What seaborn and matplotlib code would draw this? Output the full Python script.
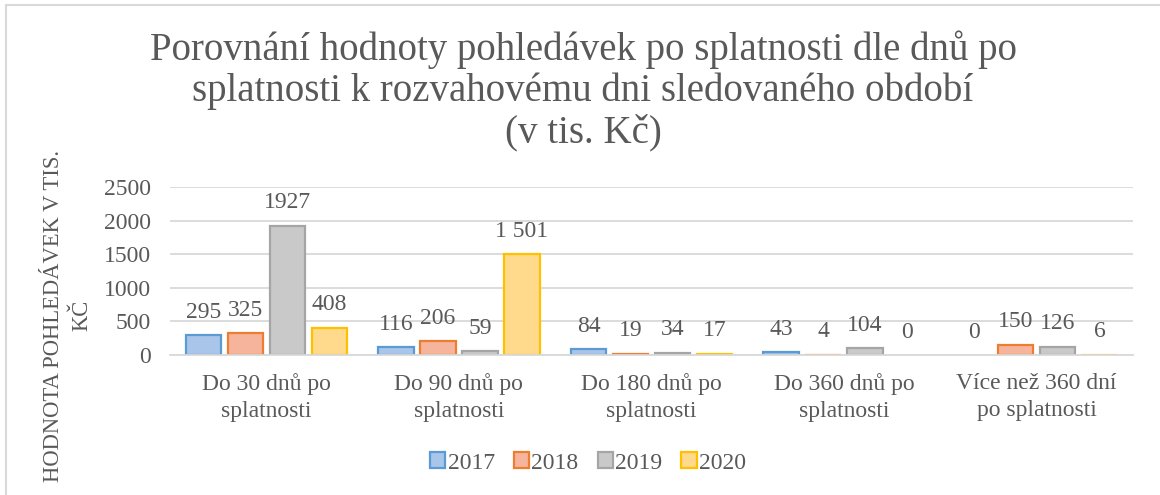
import pandas as pd
import matplotlib.pyplot as plt
import seaborn as sns
from matplotlib.lines import Line2D

categories = ["Do 30 dnů po\nsplatnosti", "Do 90 dnů po\nsplatnosti",
              "Do 180 dnů po\nsplatnosti", "Do 360 dnů po\nsplatnosti",
              "Více než 360 dní\npo splatnosti"]
years = ["2017", "2018", "2019", "2020"]
v2017 = [295, 116, 84, 43, 0]
v2018 = [325, 206, 19, 4, 150]
v2019 = [1927, 59, 34, 104, 126]
v2020 = [408, 1501, 17, 0, 6]
yticks = [0, 500, 1000, 1500, 2000, 2500]

fills = ["#a9c5ea", "#f5b49b", "#c9c9c9", "#ffd98c"]
edges = ["#5b9bd5", "#ed7d31", "#a5a5a5", "#ffc000"]
txt = "#595959"

rows = []
for y, vals in zip(years, [v2017, v2018, v2019, v2020]):
    for c, v in zip(categories, vals):
        rows.append({"kategorie": c, "rok": y, "hodnota": v})
df = pd.DataFrame(rows)

sns.set_style("white")
plt.rcParams['font.family'] = ['Liberation Serif', 'DejaVu Serif']

fig = plt.figure(figsize=(11.6, 4.95), dpi=100)
ax = fig.add_axes([170 / 1160, 1 - 355 / 495, 963 / 1160, 168 / 495])

sns.barplot(data=df, x="kategorie", y="hodnota", hue="rok", palette=fills,
            width=0.872, saturation=1, ax=ax, legend=False)

# Excel style: bars with darker outline and a small gap between them
for cont, ec, y in zip(ax.containers, edges, years):
    for p, v in zip(cont.patches, df[df["rok"] == y]["hodnota"]):
        w = p.get_width()
        p.set_x(p.get_x() + w * 0.08)
        p.set_width(w * 0.84)
        p.set_edgecolor(ec)
        p.set_linewidth(1.6 if v > 0 else 0)
        if y == "2020":
            lab = f"{v:,}".replace(",", " ")
        else:
            lab = str(v)
        ax.annotate(lab, (p.get_x() + p.get_width() / 2, v),
                    xytext=(0, 9), textcoords="offset points",
                    ha="center", va="bottom", fontsize=17, color=txt)

ax.set_ylim(0, 2500)
ax.set_yticks(yticks)
ax.yaxis.grid(True, color="#d9d9d9", lw=1.3)
ax.set_axisbelow(True)
for s in ["top", "right", "left"]:
    ax.spines[s].set_visible(False)
ax.spines["bottom"].set_color("#d9d9d9")
ax.spines["bottom"].set_linewidth(1.3)
ax.tick_params(axis="both", length=0, labelsize=17, labelcolor=txt)
ax.tick_params(axis="x", pad=13)
ax.tick_params(axis="y", pad=14)
for t in ax.get_xticklabels():
    t.set_linespacing(1.4)
ax.set_xlabel("")
ax.set_ylabel("")

fig.text(68 / 1160, 0.362, "HODNOTA POHLEDÁVEK V TIS.\nKČ", rotation=90,
         ha="center", va="center", multialignment="center",
         fontsize=16.3, color=txt, linespacing=1.45)

fig.text(583 / 1160, 1 - 30 / 495,
         "Porovnání hodnoty pohledávek po splatnosti dle dnů po\n"
         "splatnosti k rozvahovému dni sledovaného období\n"
         "(v tis. Kč)",
         ha="center", va="top", multialignment="center",
         fontsize=28, color=txt, linespacing=1.14)

handles = [cont.patches[0] for cont in ax.containers]
fig.legend(handles, years, loc="center", bbox_to_anchor=(588 / 1160, 1 - 463 / 495),
           ncol=4, frameon=False, fontsize=17, labelcolor=txt,
           handlelength=0.65, handleheight=0.65, handletextpad=0.1,
           columnspacing=0.8)

# chart frame
fig.add_artist(Line2D([6 / 1160, 6 / 1160], [0, 1 - 5 / 495],
                      transform=fig.transFigure, color="#d9d9d9", lw=1.5))
fig.add_artist(Line2D([6 / 1160, 1], [1 - 5 / 495, 1 - 5 / 495],
                      transform=fig.transFigure, color="#d9d9d9", lw=1.5))

fig.savefig("out.png", dpi=100)
